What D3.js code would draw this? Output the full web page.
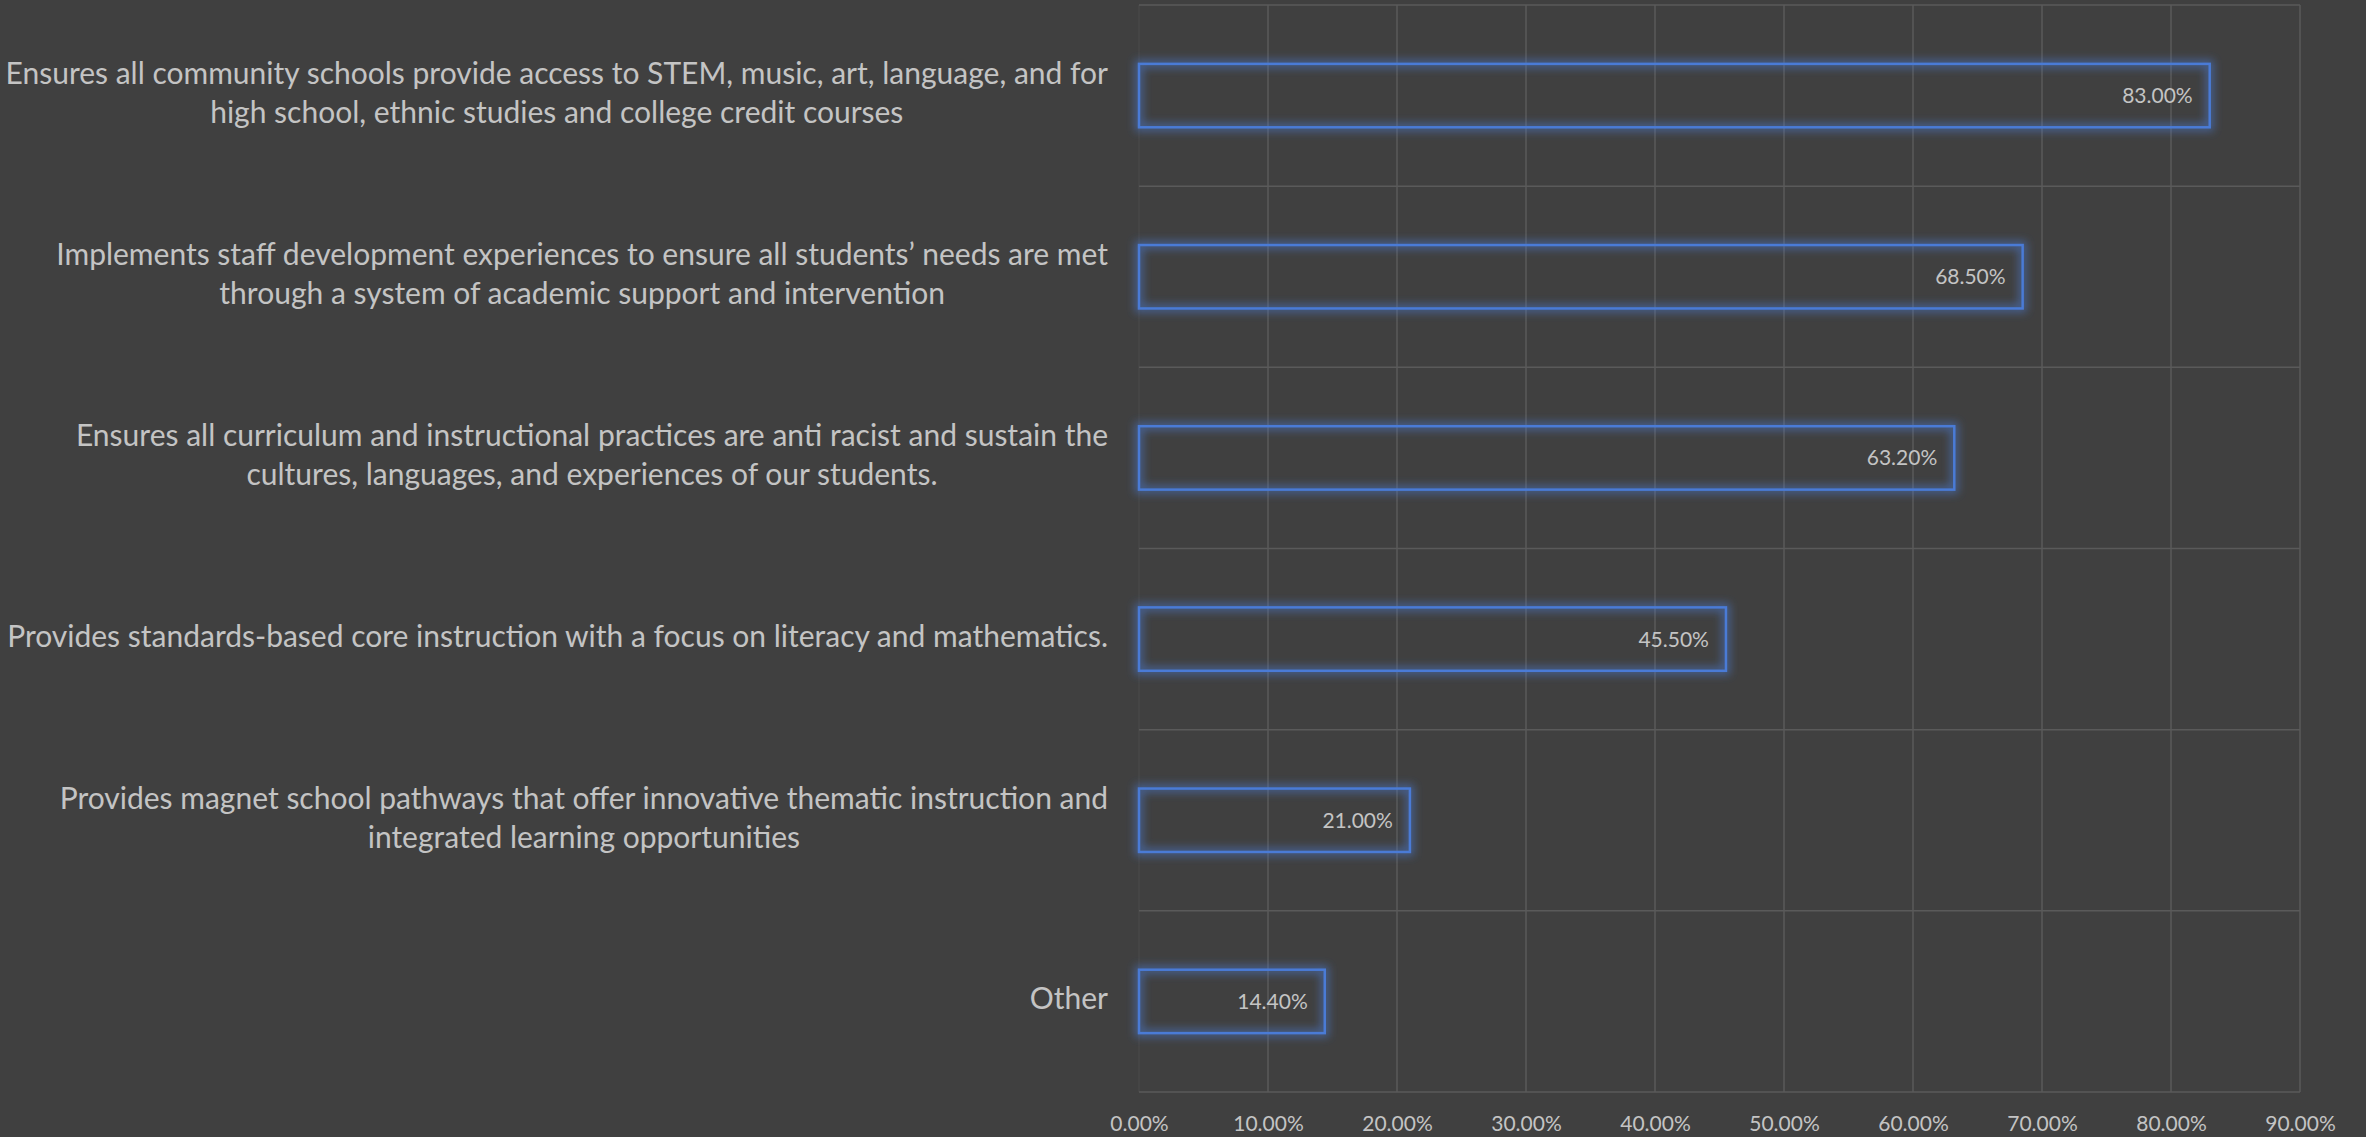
<!DOCTYPE html>
<html>
<head>
<meta charset="utf-8">
<script src="https://cdn.jsdelivr.net/npm/d3@7"></script>
<style>
  html, body { margin: 0; padding: 0; background: #404040; }
  svg { display: block; }
</style>
</head>
<body>
<svg id="chart" width="2366" height="1137"></svg>
<script>
// ---- data ----
const categories = [
  ["Ensures all community schools provide access to STEM, music, art, language, and for", "high school, ethnic studies and college credit courses"],
  ["Implements staff development experiences to ensure all students\u2019 needs are met", "through a system of academic support and intervention"],
  ["Ensures all curriculum and instructional practices are anti racist and sustain the", "cultures, languages, and experiences of our students."],
  ["Provides standards-based core instruction with a focus on literacy and mathematics."],
  ["Provides magnet school pathways that offer innovative thematic instruction and", "integrated learning opportunities"],
  ["Other"]
];
const values = [83.0, 68.5, 63.2, 45.5, 21.0, 14.4];
const tickValues = [0, 10, 20, 30, 40, 50, 60, 70, 80, 90];

// ---- layout ----
const W = 2366, H = 1137;
const plot = { left: 1139, right: 2300, top: 5, bottom: 1092 };
const svg = d3.select("#chart");
const FONT = "Lato, 'Open Sans', sans-serif";
const textColor = "#c4c4c4";
const gridColor = "#5a5a5a";
const barColor = "#4a7bd6";

const x = d3.scaleLinear().domain([0, 90]).range([plot.left, plot.right]);
const ids = categories.map((d, i) => i);
const y = d3.scaleBand().domain(ids).range([plot.top, plot.bottom]).paddingInner(0.65).paddingOuter(0.325);
const yBand = d3.scaleBand().domain(ids).range([plot.top, plot.bottom]);

const defs = svg.append("defs");
const f = defs.append("filter").attr("id", "glow").attr("x", "-20%").attr("y", "-50%").attr("width", "140%").attr("height", "200%");
f.append("feGaussianBlur").attr("stdDeviation", 4);

// grid
const g = svg.append("g");
g.selectAll("line.v").data(tickValues).join("line")
  .attr("x1", d => x(d)).attr("x2", d => x(d))
  .attr("y1", plot.top).attr("y2", plot.bottom)
  .attr("stroke", (d, i) => i === 0 ? "#474747" : gridColor).attr("stroke-width", 1.5);
const hb = ids.map(i => yBand(i)).concat([plot.bottom]);
g.selectAll("line.h").data(hb).join("line")
  .attr("x1", plot.left).attr("x2", plot.right)
  .attr("y1", d => d).attr("y2", d => d)
  .attr("stroke", gridColor).attr("stroke-width", 1.5);

// x axis labels
const xAxis = d3.axisBottom(x).tickValues(tickValues).tickSize(0).tickPadding(0)
  .tickFormat(d => d.toFixed(2) + "%");
const ax = svg.append("g").attr("transform", `translate(0,${plot.bottom + 24})`).call(xAxis);
ax.select(".domain").remove();
ax.selectAll("text").attr("fill", textColor).style("font-family", FONT).style("font-size", "21px");

// bars: glow + crisp stroke
const bars = svg.append("g");
bars.selectAll("rect.glow").data(values).join("rect")
  .attr("x", x(0)).attr("y", (d, i) => y(i))
  .attr("width", d => x(d) - x(0)).attr("height", y.bandwidth())
  .attr("fill", "none").attr("stroke", barColor).attr("stroke-width", 8)
  .attr("stroke-opacity", 0.55).attr("filter", "url(#glow)");
bars.selectAll("rect.bar").data(values).join("rect")
  .attr("x", x(0)).attr("y", (d, i) => y(i))
  .attr("width", d => x(d) - x(0)).attr("height", y.bandwidth())
  .attr("fill", "none").attr("stroke", barColor).attr("stroke-width", 2.5);

// value labels
svg.append("g").selectAll("text").data(values).join("text")
  .attr("x", d => x(d) - 17)
  .attr("y", (d, i) => y(i) + y.bandwidth() / 2)
  .attr("dy", "0.36em")
  .attr("text-anchor", "end")
  .attr("fill", textColor)
  .style("font-family", FONT).style("font-size", "21px")
  .text(d => d.toFixed(2) + "%");

// category labels (centered block, right edge aligned)
const labelRight = 1108;
const lineH = 39;
const lg = svg.append("g");
categories.forEach((lines, i) => {
  const cy = yBand(i) + yBand.bandwidth() / 2 - 2;
  const t = lg.append("text").attr("fill", textColor)
    .style("font-family", FONT).style("font-size", "30px")
    .attr("text-anchor", "middle");
  const spans = lines.map((s, k) => t.append("tspan")
    .attr("y", cy + (k - (lines.length - 1) / 2) * lineH)
    .attr("dy", "0.33em").text(s));
  const widths = spans.map(sp => sp.node().getComputedTextLength());
  const bw = Math.max(...widths);
  spans.forEach(sp => sp.attr("x", labelRight - bw / 2));
});
</script>
</body>
</html>
